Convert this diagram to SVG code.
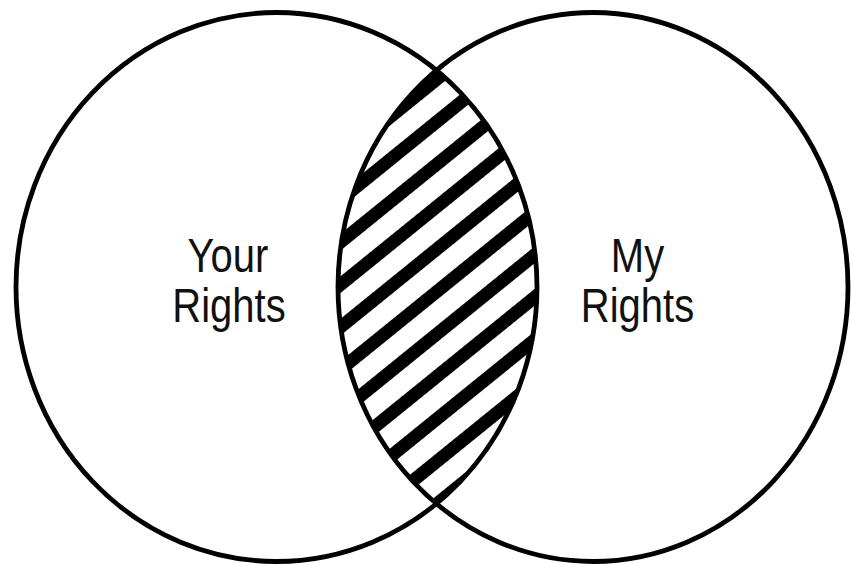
<svg xmlns="http://www.w3.org/2000/svg" width="851" height="564" viewBox="0 0 851 564">
  <style>
    .ring { fill: none; stroke: #000; stroke-width: 4.8; }
    .label { font-family: "Liberation Sans", Arial, sans-serif; font-size: 40px; fill: #111; text-anchor: middle; }
  </style>
  <defs>
    <pattern id="hatch" patternUnits="userSpaceOnUse" width="33" height="33" patternTransform="rotate(-39)">
      <rect x="0" y="0" width="33" height="13" fill="#000"/>
    </pattern>
    <clipPath id="clipLeft">
      <ellipse cx="276.5" cy="287" rx="260.5" ry="274.5"/>
    </clipPath>
  </defs>
  <rect width="851" height="564" fill="#fff"/>
  <g id="overlap" clip-path="url(#clipLeft)">
    <ellipse cx="593" cy="287" rx="255" ry="274.5" fill="url(#hatch)"/>
  </g>
  <g id="your-rights">
    <ellipse class="ring" cx="276.5" cy="287" rx="260.5" ry="274.5"/>
    <text class="label" transform="translate(228 271.7) scale(1 1.22)">Your</text>
    <text class="label" transform="translate(229 321.7) scale(1 1.22)">Rights</text>
  </g>
  <g id="my-rights">
    <ellipse class="ring" cx="593" cy="287" rx="255" ry="274.5"/>
    <text class="label" transform="translate(637.5 271.7) scale(1 1.22)">My</text>
    <text class="label" transform="translate(637.5 321.7) scale(1 1.22)">Rights</text>
  </g>
  <g id="connectors"/>
</svg>
